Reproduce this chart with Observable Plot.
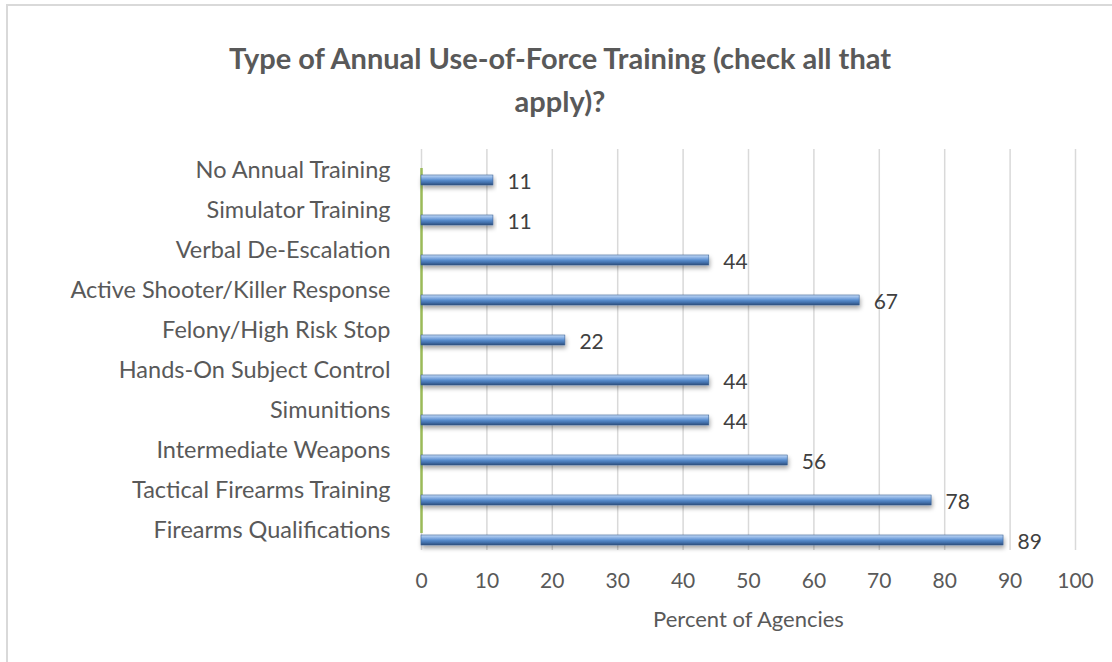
<!DOCTYPE html>
<html>
<head>
<meta charset="utf-8">
<script src="https://cdn.jsdelivr.net/npm/d3@7"></script>
<script src="https://cdn.jsdelivr.net/npm/@observablehq/plot@0.6"></script>
<style>
  html, body { margin: 0; padding: 0; background: #fff; }
  #wrap { position: relative; width: 1112px; height: 662px; overflow: hidden; font-family: Lato, "Open Sans", sans-serif; }
  #bt { position: absolute; left: 6px; top: 4px; width: 1120px; height: 2px; background: #d9d9d9; }
  #bl { position: absolute; left: 6px; top: 4px; width: 2px; height: 700px; background: #d9d9d9; }
  #title { position: absolute; left: 60px; width: 1000px; top: 36px; text-align: center; color: #595959;
           font-weight: 700; font-size: 29px; line-height: 43px; }
  #chart { position: absolute; left: 0; top: 0; }
</style>
</head>
<body>
<div id="wrap">
  <div id="bt"></div><div id="bl"></div>
  <div id="chart"></div>
  <div id="title">Type of Annual Use-of-Force Training (check all that<br>apply)?</div>
</div>
<script>
const categories = ["No Annual Training","Simulator Training","Verbal De-Escalation","Active Shooter/Killer Response","Felony/High Risk Stop","Hands-On Subject Control","Simunitions","Intermediate Weapons","Tactical Firearms Training","Firearms Qualifications"];
const values = [11,11,44,67,22,44,44,56,78,89];
const xTicks = [0,10,20,30,40,50,60,70,80,90,100];
const xLabel = "Percent of Agencies";

const data = categories.map((c, i) => ({category: c, value: values[i]}));

const plot = Plot.plot({
  width: 1112,
  height: 662,
  marginTop: 149,
  marginBottom: 112,
  marginLeft: 421,
  marginRight: 37,
  style: {fontFamily: "Lato, 'Open Sans', sans-serif", color: "#595959", background: "transparent"},
  x: {domain: [0, 100], ticks: xTicks, label: null},
  y: {domain: categories, padding: 0, label: null},
  marks: [
    Plot.ruleX(xTicks, {stroke: "#d9d9d9", strokeWidth: 1.5}),
    Plot.ruleX([0], {stroke: "#9bbb59", strokeWidth: 2.5, insetTop: 19, insetBottom: 17}),
    Plot.barX(data, {x1: 0, x2: "value", y: "category", fill: "#4f81bd", stroke: "#3a6296", strokeWidth: 0.6, insetTop: 25, insetBottom: 5}),
    Plot.text(data, {x: "value", y: "category", text: d => String(d.value), dx: 14, dy: 12, textAnchor: "start", fontSize: 21, fill: "#404040"}),
    Plot.axisX({ticks: xTicks, tickSize: 0, tickPadding: 23, fontSize: 21, label: null}),
    Plot.axisY({tickSize: 0, tickPadding: 31, fontSize: 23.5, label: null}),
    Plot.text([xLabel], {frameAnchor: "bottom", dy: 76, fontSize: 22, fill: "#595959"})
  ]
});

document.getElementById("chart").appendChild(plot);

// gradient + shadow for the bars
const svg = d3.select(plot);
const defs = svg.insert("defs", ":first-child");
const g = defs.append("linearGradient").attr("id", "barGrad").attr("x1", 0).attr("y1", 0).attr("x2", 0).attr("y2", 1);
[[0, "#c6dbf5"], [0.25, "#8fb5e6"], [0.5, "#5b8fd0"], [0.8, "#3f6ca6"], [1, "#2b4a73"]]
  .forEach(([o, c]) => g.append("stop").attr("offset", o).attr("stop-color", c));
const f = defs.append("filter").attr("id", "barShadow").attr("x", "-5%").attr("y", "-50%").attr("width", "110%").attr("height", "250%");
f.append("feDropShadow").attr("dx", 1).attr("dy", 3).attr("stdDeviation", 2).attr("flood-color", "#000").attr("flood-opacity", 0.35);
svg.selectAll("g[aria-label='bar'] rect").attr("fill", "url(#barGrad)").attr("filter", "url(#barShadow)");
</script>
</body>
</html>
